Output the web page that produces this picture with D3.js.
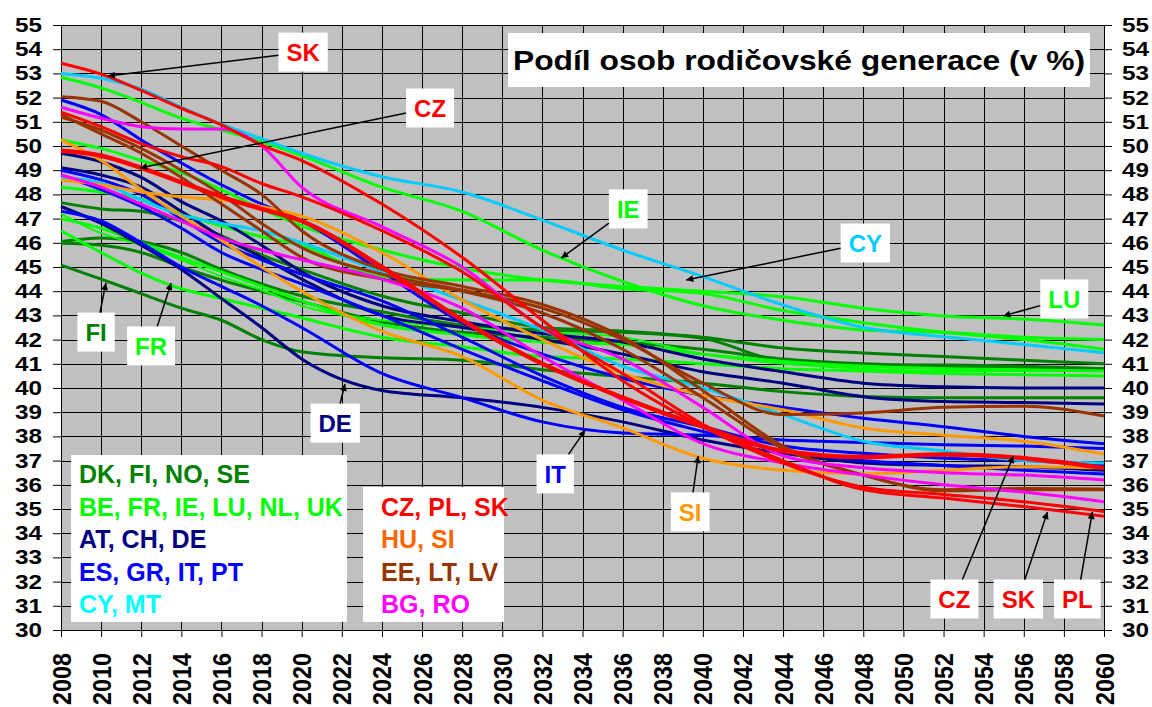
<!DOCTYPE html>
<html>
<head>
<meta charset="utf-8">
<script src="https://cdn.jsdelivr.net/npm/d3@7"></script>
<style>
  body { margin: 0; background: #fff; }
  svg { display: block; font-family: Arial, "Liberation Sans", sans-serif; font-weight: bold; }
</style>
</head>
<body>
<div id="chart"></div>
<script>

// years the values were read at
const years = [2008, 2010, 2012, 2014, 2016, 2018, 2020, 2024, 2028, 2032, 2036, 2040, 2044, 2048, 2052, 2056, 2060];

// DK, FI, NO, SE
const DK = [47.66, 47.4, 47.3, 46.9, 46.3, 45.5, 44.9, 43.8, 43.1, 42.5, 42.35, 42.1, 41.65, 41.45, 41.3, 41.15, 41.0];
const FI = [45.08, 44.5, 43.9, 43.3, 42.8, 42.0, 41.5, 41.25, 41.15, 40.75, 40.47, 40.2, 39.85, 39.65, 39.6, 39.6, 39.6];
const NO = [46.05, 46.2, 46.05, 45.6, 44.9, 44.3, 43.8, 43.15, 42.6, 42.4, 42.3, 42.05, 41.1, 40.95, 40.95, 40.9, 40.8];
const SE = [45.98, 45.9, 45.6, 45.0, 44.46, 44.0, 43.57, 42.74, 42.3, 42.1, 41.9, 41.6, 41.2, 41.0, 40.9, 40.85, 40.8];

// BE, FR, IE, LU, NL, UK
const BE = [47.0, 46.6, 46.0, 45.4, 44.8, 44.2, 43.6, 42.6, 42.2, 41.9, 41.8, 41.4, 41.1, 40.9, 40.8, 40.75, 40.7];
const FR = [46.5, 45.6, 44.75, 44.1, 43.7, 43.3, 42.9, 42.1, 41.7, 41.3, 41.2, 41.0, 40.8, 40.7, 40.6, 40.55, 40.5];
const IE = [52.84, 52.4, 51.8, 51.15, 50.66, 50.18, 49.6, 48.3, 47.3, 45.7, 44.4, 43.4, 42.8, 42.4, 42.3, 42.1, 42.0];
const LU = [50.25, 49.9, 49.4, 48.9, 48.2, 47.4, 46.7, 45.7, 44.95, 44.46, 44.2, 44.0, 43.77, 43.3, 42.98, 42.85, 42.6];
const NL = [48.3, 48.1, 47.8, 47.2, 46.7, 46.25, 45.9, 44.6, 44.46, 44.46, 44.1, 43.9, 43.2, 42.7, 42.3, 42.0, 41.6];
const UK = [47.2, 46.4, 45.9, 45.3, 44.6, 44.05, 43.4, 42.8, 42.5, 42.3, 42.1, 41.4, 41.0, 40.8, 40.7, 40.7, 40.7];

// AT, CH, DE
const AT = [49.7, 49.35, 48.7, 47.7, 46.9, 45.9, 44.8, 43.4, 42.74, 42.25, 41.9, 41.2, 40.67, 40.2, 40.05, 40.0, 40.0];
const CH = [49.1, 48.8, 48.3, 47.3, 46.25, 45.4, 44.5, 43.0, 42.5, 42.0, 41.4, 40.67, 40.2, 39.64, 39.44, 39.4, 39.34];
const DE = [47.5, 46.8, 45.9, 44.9, 43.7, 42.5, 41.2, 39.9, 39.6, 39.2, 38.6, 37.85, 37.3, 36.9, 36.8, 36.75, 36.6];

// ES, GR, IT, PT
const ES = [51.9, 51.3, 50.25, 49.3, 48.4, 47.6, 46.9, 44.8, 42.7, 41.4, 40.4, 39.7, 39.2, 38.75, 38.4, 38.0, 37.7];
const GR = [49.0, 48.6, 48.0, 47.0, 46.0, 45.3, 44.7, 43.6, 42.1, 40.5, 39.2, 38.4, 37.6, 37.3, 37.1, 37.0, 36.8];
const IT = [47.3, 46.9, 46.0, 45.0, 44.2, 43.4, 42.5, 40.6, 39.6, 38.6, 38.14, 38.05, 37.85, 37.75, 37.65, 37.6, 37.5];
const PT = [48.8, 48.2, 47.5, 46.6, 45.6, 44.9, 44.3, 43.0, 41.6, 40.3, 39.1, 38.2, 37.4, 37.0, 36.8, 36.6, 36.45];

// CY, MT
const CY = [53.0, 52.8, 52.35, 51.6, 50.9, 50.3, 49.7, 48.73, 48.1, 46.94, 45.7, 44.6, 43.43, 42.5, 42.12, 41.8, 41.46];
const MT = [48.7, 48.47, 47.77, 47.15, 46.8, 46.5, 46.0, 44.8, 43.64, 42.4, 40.9, 40.0, 38.9, 37.8, 37.4, 37.0, 36.9];

// CZ, PL, SK
const CZ = [49.8, 49.6, 49.1, 48.5, 47.9, 47.4, 46.9, 45.0, 42.8, 41.0, 39.6, 38.4, 37.4, 37.15, 37.25, 37.1, 36.7];
const PL = [51.4, 50.8, 50.1, 49.56, 49.15, 48.45, 47.9, 46.5, 44.8, 42.5, 40.6, 38.5, 37.0, 35.8, 35.45, 35.1, 34.7];
const SK = [53.42, 52.97, 52.3, 51.56, 50.87, 50.04, 49.4, 47.6, 45.4, 42.8, 40.3, 38.4, 36.9, 35.9, 35.6, 35.3, 34.9];

// HU, SI
const HU = [48.6, 48.4, 48.1, 47.9, 47.77, 47.5, 47.1, 45.6, 43.64, 42.0, 40.6, 39.7, 39.1, 38.35, 38.05, 37.8, 37.27];
const SI = [50.25, 49.4, 48.2, 47.1, 46.1, 45.0, 44.0, 42.35, 41.3, 39.5, 38.35, 37.1, 36.6, 36.45, 36.6, 36.75, 36.7];

// EE, LT, LV
const EE = [52.04, 51.85, 51.0, 50.0, 49.0, 48.0, 46.5, 44.9, 44.2, 43.45, 42.1, 39.9, 37.6, 36.4, 35.8, 35.85, 35.83];
const LT = [51.3, 50.5, 49.7, 48.7, 47.6, 46.5, 45.4, 44.5, 44.0, 43.1, 41.6, 39.6, 37.5, 36.4, 35.75, 35.8, 35.8];
const LV = [51.2, 50.66, 49.9, 49.0, 48.0, 46.8, 45.8, 44.7, 44.05, 43.3, 42.0, 40.2, 38.9, 38.97, 39.2, 39.25, 38.84];

// BG, RO
const BG = [51.6, 51.15, 50.8, 50.7, 50.7, 50.0, 48.3, 46.67, 45.0, 42.5, 41.2, 39.2, 37.2, 36.7, 36.5, 36.4, 36.2];
const RO = [48.8, 48.3, 47.6, 46.9, 46.2, 45.7, 45.3, 44.5, 43.3, 41.3, 39.5, 37.7, 36.9, 36.4, 36.0, 35.7, 35.3];

const yTickValues = d3.range(30, 56, 1);
const xTickValues = d3.range(2008, 2061, 2);

const seriesValues = {DK, FI, NO, SE, BE, FR, IE, LU, NL, UK, AT, CH, DE, ES, GR, IT, PT,
  CY, MT, CZ, PL, SK, HU, SI, EE, LT, LV, BG, RO};

// groups in drawing order (reds end up on top)
const groups = [
  {names: ["DK", "FI", "NO", "SE"], color: "#008000"},
  {names: ["BE", "FR", "IE", "LU", "NL", "UK"], color: "#00ff00"},
  {names: ["AT", "CH", "DE"], color: "#000080"},
  {names: ["ES", "GR", "IT", "PT"], color: "#0000ff"},
  {names: ["CY", "MT"], color: "#00ccff"},
  {names: ["HU", "SI"], color: "#ff9900"},
  {names: ["EE", "LT", "LV"], color: "#993300"},
  {names: ["BG", "RO"], color: "#ff00ff"},
  {names: ["CZ", "PL", "SK"], color: "#ff0000"}
];
const lineWidth = {UK: 2, CZ: 4.5};

const legendLeft = [
  {text: "DK, FI, NO, SE", color: "#008000"},
  {text: "BE, FR, IE, LU, NL, UK", color: "#00ff00"},
  {text: "AT, CH, DE", color: "#000080"},
  {text: "ES, GR, IT, PT", color: "#0000ff"},
  {text: "CY, MT", color: "#00ffff"}
];
const legendRight = [
  {text: "CZ, PL, SK", color: "#ff0000"},
  {text: "HU, SI", color: "#ff6600"},
  {text: "EE, LT, LV", color: "#993300"},
  {text: "BG, RO", color: "#ff00ff"}
];

// callouts: label centre and arrow tip, both in chart units (year, %)
const callouts = [
  {text: "SK", color: "#ff0000", lx: 2020.07, ly: 53.88, tx: 2010.34, ty: 52.89},
  {text: "CZ", color: "#ff0000", lx: 2026.4, ly: 51.57, tx: 2011.94, ty: 49.09},
  {text: "IE", color: "#00ff00", lx: 2036.28, ly: 47.4, tx: 2032.94, ty: 45.37},
  {text: "CY", color: "#00ccff", lx: 2048.1, ly: 45.99, tx: 2039.17, ty: 44.46},
  {text: "LU", color: "#00ff00", lx: 2058.02, ly: 43.68, tx: 2054.98, ty: 42.98},
  {text: "FI", color: "#008000", lx: 2009.75, ly: 42.31, tx: 2010.24, ty: 44.34},
  {text: "FR", color: "#00ff00", lx: 2012.49, ly: 41.74, tx: 2013.49, ty: 44.34},
  {text: "DE", color: "#000080", lx: 2021.67, ly: 38.55, tx: 2022.16, ty: 40.17},
  {text: "IT", color: "#0000ff", lx: 2032.64, ly: 36.45, tx: 2034.13, ty: 38.26},
  {text: "SI", color: "#ff9900", lx: 2039.37, ly: 34.88, tx: 2039.77, ty: 37.19},
  {text: "CZ", color: "#ff0000", lx: 2052.54, ly: 31.28, tx: 2055.48, ty: 37.19},
  {text: "SK", color: "#ff0000", lx: 2055.73, ly: 31.28, tx: 2057.18, ty: 34.88},
  {text: "PL", color: "#ff0000", lx: 2058.67, ly: 31.28, tx: 2059.42, ty: 34.88}
];

const width = 1152, height = 707;
const plot = {left: 61, right: 1104, top: 25, bottom: 630};

const svg = d3.select("#chart").append("svg")
  .attr("width", width)
  .attr("height", height);

const x = d3.scaleLinear().domain([2008, 2060]).range([plot.left, plot.right]);
const y = d3.scaleLinear().domain([30, 55]).range([plot.bottom, plot.top]);

svg.append("rect")
  .attr("x", plot.left).attr("y", plot.top)
  .attr("width", plot.right - plot.left)
  .attr("height", plot.bottom - plot.top)
  .attr("fill", "#c0c0c0");

// grid
svg.append("g").selectAll("line")
  .data(yTickValues)
  .enter().append("line")
  .attr("x1", plot.left).attr("x2", plot.right)
  .attr("y1", d => Math.round(y(d)) + 0.5)
  .attr("y2", d => Math.round(y(d)) + 0.5)
  .attr("stroke", "#000").attr("stroke-width", 1);

svg.append("g").selectAll("line")
  .data(xTickValues)
  .enter().append("line")
  .attr("x1", d => Math.round(x(d)) + 0.5)
  .attr("x2", d => Math.round(x(d)) + 0.5)
  .attr("y1", plot.top).attr("y2", plot.bottom)
  .attr("stroke", "#000").attr("stroke-width", 1);

// axes
function styleAxis(g) {
  g.attr("font-family", null).attr("font-size", null);
  g.select(".domain").remove();
  g.selectAll(".tick line").attr("stroke", "#000");
  g.selectAll(".tick text").attr("fill", "#000");
}

svg.append("g")
  .attr("transform", "translate(" + plot.left + ",0)")
  .call(d3.axisLeft(y).tickValues(yTickValues).tickSize(8).tickPadding(11))
  .call(styleAxis)
  .selectAll(".tick text")
  .attr("font-size", 20)
  .attr("textLength", 27)
  .attr("lengthAdjust", "spacingAndGlyphs");

svg.append("g")
  .attr("transform", "translate(" + plot.right + ",0)")
  .call(d3.axisRight(y).tickValues(yTickValues).tickSize(8).tickPadding(10))
  .call(styleAxis)
  .selectAll(".tick text")
  .attr("font-size", 20)
  .attr("textLength", 27)
  .attr("lengthAdjust", "spacingAndGlyphs");

svg.append("g")
  .attr("transform", "translate(0," + plot.bottom + ")")
  .call(d3.axisBottom(x).tickValues(xTickValues).tickSize(7).tickFormat(d3.format("d")))
  .call(styleAxis)
  .selectAll(".tick text")
  .attr("font-size", 25)
  .attr("textLength", 52)
  .attr("lengthAdjust", "spacingAndGlyphs")
  .attr("transform", "rotate(-90)")
  .attr("text-anchor", "end")
  .attr("x", -23)
  .attr("y", 0)
  .attr("dy", "0.36em");

// series
const line = d3.line()
  .x((d, i) => x(years[i]))
  .y(d => y(d))
  .curve(d3.curveMonotoneX);

const seriesG = svg.append("g");
groups.forEach(function(grp) {
  seriesG.selectAll(null)
    .data(grp.names)
    .enter().append("path")
    .attr("class", "series")
    .attr("d", name => line(seriesValues[name]))
    .attr("fill", "none")
    .attr("stroke", grp.color)
    .attr("stroke-width", name => lineWidth[name] || 3)
    .attr("stroke-linejoin", "round");
});

// title
svg.append("rect")
  .attr("x", 508).attr("y", 33).attr("width", 582).attr("height", 54)
  .attr("fill", "#fff");
svg.append("text")
  .attr("x", 799).attr("y", 70)
  .attr("text-anchor", "middle")
  .attr("font-size", 28)
  .attr("textLength", 572)
  .attr("lengthAdjust", "spacingAndGlyphs")
  .text("Podíl osob rodičovské generace (v %)");

// legend boxes
function legendBox(items, bx, by, bw, bh, tx, firstBase) {
  svg.append("rect")
    .attr("x", bx).attr("y", by).attr("width", bw).attr("height", bh)
    .attr("fill", "#fff");
  svg.append("g").selectAll("text")
    .data(items)
    .enter().append("text")
    .attr("x", tx)
    .attr("y", (d, i) => firstBase + i * 32.5)
    .attr("font-size", 25)
    .attr("fill", d => d.color)
    .text(d => d.text);
}
legendBox(legendLeft, 71, 455, 276, 167, 79, 483);
legendBox(legendRight, 363, 487, 141, 135, 381, 515.5);

// callouts with arrows
svg.append("defs").append("marker")
  .attr("id", "arrow")
  .attr("viewBox", "0 0 10 10")
  .attr("refX", 10).attr("refY", 5)
  .attr("markerWidth", 10).attr("markerHeight", 7)
  .attr("markerUnits", "userSpaceOnUse")
  .attr("orient", "auto")
  .append("path")
  .attr("d", "M0,0 L10,5 L0,10 z")
  .attr("fill", "#000");

const calloutG = svg.append("g");
callouts.forEach(function(c) {
  const cx = x(c.lx), cy = y(c.ly);
  const px = x(c.tx), py = y(c.ty);
  const g = calloutG.append("g");
  const t = g.append("text")
    .attr("x", cx).attr("y", cy)
    .attr("dy", "0.36em")
    .attr("text-anchor", "middle")
    .attr("font-size", 24)
    .attr("fill", c.color)
    .text(c.text);
  const tw = t.node().getComputedTextLength();
  const hw = tw / 2 + 8, hh = 19.5;
  g.insert("rect", "text")
    .attr("x", cx - hw).attr("y", cy - hh)
    .attr("width", hw * 2).attr("height", hh * 2)
    .attr("fill", "#fff");
  // arrow leaves the box where the line to the tip crosses its edge
  const dx = px - cx, dy = py - cy;
  const s = Math.min(Math.abs(dx) > 0 ? hw / Math.abs(dx) : Infinity,
                     Math.abs(dy) > 0 ? hh / Math.abs(dy) : Infinity);
  g.append("line")
    .attr("x1", cx + dx * s).attr("y1", cy + dy * s)
    .attr("x2", px).attr("y2", py)
    .attr("stroke", "#000").attr("stroke-width", 1.5)
    .attr("marker-end", "url(#arrow)");
});

</script>
</body>
</html>
